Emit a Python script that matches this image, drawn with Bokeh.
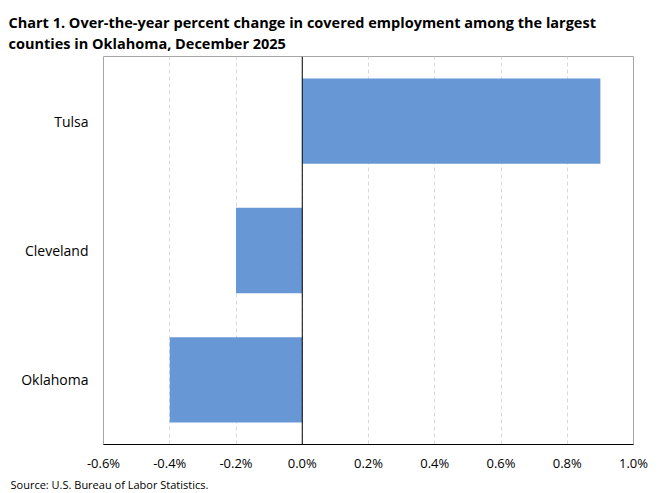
from bokeh.plotting import figure
from bokeh.models import (FactorRange, Range1d, FixedTicker, PrintfTickFormatter,
                          Span, Title, ColumnDataSource)
from bokeh.embed import file_html
from bokeh.resources import INLINE

counties = ["Oklahoma", "Cleveland", "Tulsa"]
pct_change = [-0.4, -0.2, 0.9]
x_ticks = [-0.6, -0.4, -0.2, 0.0, 0.2, 0.4, 0.6, 0.8, 1.0]
title_lines = ["Chart 1. Over-the-year percent change in covered employment among the largest",
               "counties in Oklahoma, December 2025"]
source_text = "Source: U.S. Bureau of Labor Statistics."

FONT = "Open Sans"

src = ColumnDataSource(dict(county=counties, value=pct_change))

p = figure(width=660, height=493, output_backend="svg", toolbar_location=None,
           y_range=FactorRange(*counties, range_padding=0),
           x_range=Range1d(-0.6, 1.0),
           min_border_left=103, min_border_right=27, min_border_top=56, min_border_bottom=49)

p.hbar(y="county", right="value", left=0, height=0.66, source=src,
       fill_color="#6897D6", line_color=None)

p.outline_line_color = "#A6A6A6"
p.outline_line_width = 1

for ax in (p.xaxis, p.yaxis):
    ax.major_tick_line_color = None
    ax.minor_tick_line_color = None
    ax.major_tick_out = 0
    ax.major_tick_in = 0
    ax.minor_tick_out = 0
    ax.minor_tick_in = 0
    ax.major_label_text_font = FONT
    ax.major_label_text_font_style = "normal"
    ax.major_label_text_color = "black"

p.xaxis.ticker = FixedTicker(ticks=x_ticks)
p.xaxis.formatter = PrintfTickFormatter(format="%.1f%%")
p.xaxis.axis_line_color = "black"
p.xaxis.major_label_standoff = 9
p.xaxis.major_label_text_font_size = "13px"

p.yaxis.axis_line_color = None
p.yaxis.major_label_standoff = 15
p.yaxis.major_label_text_font_size = "14px"

p.ygrid.grid_line_color = None
p.xgrid.ticker = FixedTicker(ticks=x_ticks)
p.xgrid.grid_line_color = "#D9D9D9"
p.xgrid.grid_line_dash = "4 3"

p.add_layout(Span(location=0, dimension="height", line_color="black", line_width=1))

p.title = Title(text="\n".join(title_lines), align="left", offset=-95,
                text_font=FONT, text_font_style="bold", text_font_size="14.5px",
                text_line_height=1.12, text_color="black", standoff=6)

p.add_layout(Title(text=source_text, align="left", offset=-93, text_font=FONT,
                   text_font_style="normal", text_font_size="11px", text_color="black",
                   standoff=0), "below")

open("out.html", "w").write(file_html(p, INLINE))
